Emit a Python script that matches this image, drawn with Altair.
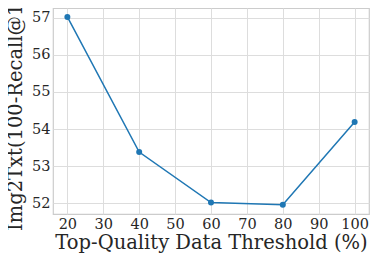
import altair as alt
import pandas as pd

thresholds = [20, 40, 60, 80, 100]
recall = [57.02, 53.38, 52.02, 51.96, 54.19]
x_ticks = [20, 30, 40, 50, 60, 70, 80, 90, 100]
y_ticks = [52, 53, 54, 55, 56, 57]

df = pd.DataFrame({"t": thresholds, "r": recall})

FONT = "DejaVu Serif"
TXT = "#262626"

base = alt.Chart(df).encode(
    x=alt.X("t:Q", scale=alt.Scale(domain=[16, 104], nice=False, zero=False),
            axis=alt.Axis(values=x_ticks, title="Top-Quality Data Threshold (%)",
                          labelPadding=3, titlePadding=3)),
    y=alt.Y("r:Q", scale=alt.Scale(domain=[51.71, 57.26], nice=False, zero=False),
            axis=alt.Axis(values=y_ticks, title="Img2Txt(100-Recall@1)",
                          labelPadding=3, titlePadding=6, titleY=105)),
)

line = base.mark_line(color="#1f77b4", strokeWidth=1.5)
pts = base.mark_circle(color="#1f77b4", size=36, opacity=1)

chart = (line + pts).properties(
    width=316, height=206,
    background="white",
    autosize=alt.AutoSizeParams(type="none"),
    padding={"left": 45, "top": 0, "right": 1, "bottom": 48},
).configure_view(
    stroke="#cccccc", strokeWidth=1.2
).configure_axis(
    labelFont=FONT, titleFont=FONT, labelFontSize=14.5, titleFontSize=19.5,
    labelColor=TXT, titleColor=TXT, titleFontWeight="normal",
    ticks=False, domain=False, gridColor="#dddddd",
)

chart.save("out.html", embed_options={"renderer": "svg", "actions": False})
